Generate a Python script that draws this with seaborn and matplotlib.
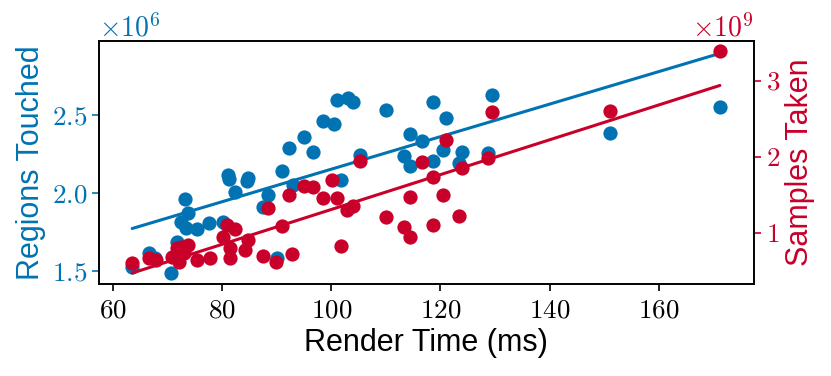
import numpy as np
import pandas as pd
import seaborn as sns
import matplotlib.pyplot as plt

# render time (ms) and regions touched (x1e6)
time_regions = [63.5, 66.5, 67.7, 70.6, 71.8, 72.5, 73.2, 73.4, 73.8, 75.4,
                77.6, 80.1, 81.0, 81.3, 82.3, 84.5, 84.8, 87.4, 88.3, 90.0,
                90.9, 92.2, 92.9, 95.0, 96.7, 98.4, 100.5, 101.0, 101.7, 103.1,
                104.0, 105.2, 110.0, 113.3, 114.4, 114.5, 116.7, 118.6, 118.6, 120.4,
                121.1, 123.4, 123.9, 128.7, 129.4, 151.0, 171.2]
regions = [1.529, 1.615, 1.583, 1.487, 1.690, 1.818, 1.962, 1.776, 1.876, 1.769,
           1.812, 1.818, 2.117, 2.090, 2.010, 2.081, 2.100, 1.914, 1.989, 1.583,
           2.145, 2.288, 2.053, 2.363, 2.267, 2.463, 2.442, 2.598, 2.085, 2.609,
           2.583, 2.246, 2.534, 2.239, 2.380, 2.175, 2.335, 2.587, 2.207, 2.278,
           2.481, 2.192, 2.267, 2.256, 2.630, 2.385, 2.555]

# render time (ms) and samples taken (x1e9)
time_samples = [63.5, 66.5, 67.9, 70.8, 71.7, 72.1, 72.6, 73.0, 73.8, 75.4,
                77.8, 80.1, 80.8, 81.4, 81.4, 82.3, 84.2, 84.8, 87.5, 88.3,
                89.9, 90.9, 92.2, 92.8, 95.0, 96.7, 98.5, 100.1, 101.0, 102.9,
                104.0, 101.7, 105.2, 110.0, 113.3, 114.4, 114.5, 116.7, 118.6, 118.6,
                120.4, 121.1, 123.4, 123.9, 128.7, 129.4, 151.0, 171.2]
samples = [0.597, 0.663, 0.641, 0.684, 0.795, 0.618, 0.816, 0.733, 0.838, 0.641,
           0.663, 0.947, 1.101, 0.795, 0.663, 1.045, 0.772, 0.904, 0.693, 1.321,
           0.618, 1.088, 1.496, 0.720, 1.614, 1.605, 1.453, 1.693, 1.453, 1.299,
           1.351, 0.829, 1.943, 1.203, 1.079, 1.466, 0.947, 1.934, 1.729, 1.101,
           1.496, 2.220, 1.220, 1.847, 1.979, 2.584, 2.601, 3.382]

blue = "#0173B2"
red = "#C8002A"

sns.set_style("ticks")
plt.rcParams["font.family"] = "serif"
plt.rcParams["font.serif"] = ["cmr10"]
plt.rcParams["mathtext.fontset"] = "cm"
plt.rcParams["mathtext.default"] = "regular"
plt.rcParams["axes.formatter.use_mathtext"] = True
plt.rcParams["axes.edgecolor"] = "black"
plt.rcParams["text.color"] = "black"
plt.rcParams["axes.labelcolor"] = "black"

df_r = pd.DataFrame({"time": time_regions, "regions": np.array(regions) * 1e6})
df_s = pd.DataFrame({"time": time_samples, "samples": np.array(samples) * 1e9})

fig, ax = plt.subplots(figsize=(8.31, 3.76), dpi=100)
ax2 = ax.twinx()

sns.regplot(data=df_r, x="time", y="regions", ax=ax, ci=None, color=blue,
            scatter_kws={"s": 105, "linewidths": 0, "alpha": 1, "zorder": 3},
            line_kws={"lw": 2.2})
sns.regplot(data=df_s, x="time", y="samples", ax=ax2, ci=None, color=red,
            scatter_kws={"s": 105, "linewidths": 0, "alpha": 1, "zorder": 3},
            line_kws={"lw": 2.2})

ax.set_ylim(1.42e6, 2.976e6)
ax2.set_ylim(0.325e9, 3.52e9)
ax.set_xlim(57.4, 177.4)
ax.set_yticks([1.5e6, 2.0e6, 2.5e6])
ax2.set_yticks([1e9, 2e9, 3e9])
ax.set_xticks([60, 80, 100, 120, 140, 160])

sans = "Liberation Sans"
ax.set_xlabel("Render Time (ms)", fontsize=22, family=sans, color="black")
ax.set_ylabel("Regions Touched", fontsize=22, family=sans, color=blue)
ax2.set_ylabel("Samples Taken", fontsize=22, family=sans, color=red)

ax.tick_params(axis="x", labelsize=19.5, width=1.2, length=5, pad=6, colors="black")
ax.tick_params(axis="y", labelsize=19.5, width=1.2, length=5, colors=blue)
ax2.tick_params(axis="y", labelsize=19.5, width=1.2, length=5, colors=red)
ax.yaxis.get_offset_text().set_fontsize(20)
ax.yaxis.get_offset_text().set_color(blue)
ax2.yaxis.get_offset_text().set_fontsize(20)
ax2.yaxis.get_offset_text().set_color(red)

for a in (ax, ax2):
    for sp in a.spines.values():
        sp.set_linewidth(1.2)
        sp.set_color("black")

fig.subplots_adjust(left=0.119, right=0.907, bottom=0.245, top=0.891)
fig.savefig("out.png", dpi=100)
